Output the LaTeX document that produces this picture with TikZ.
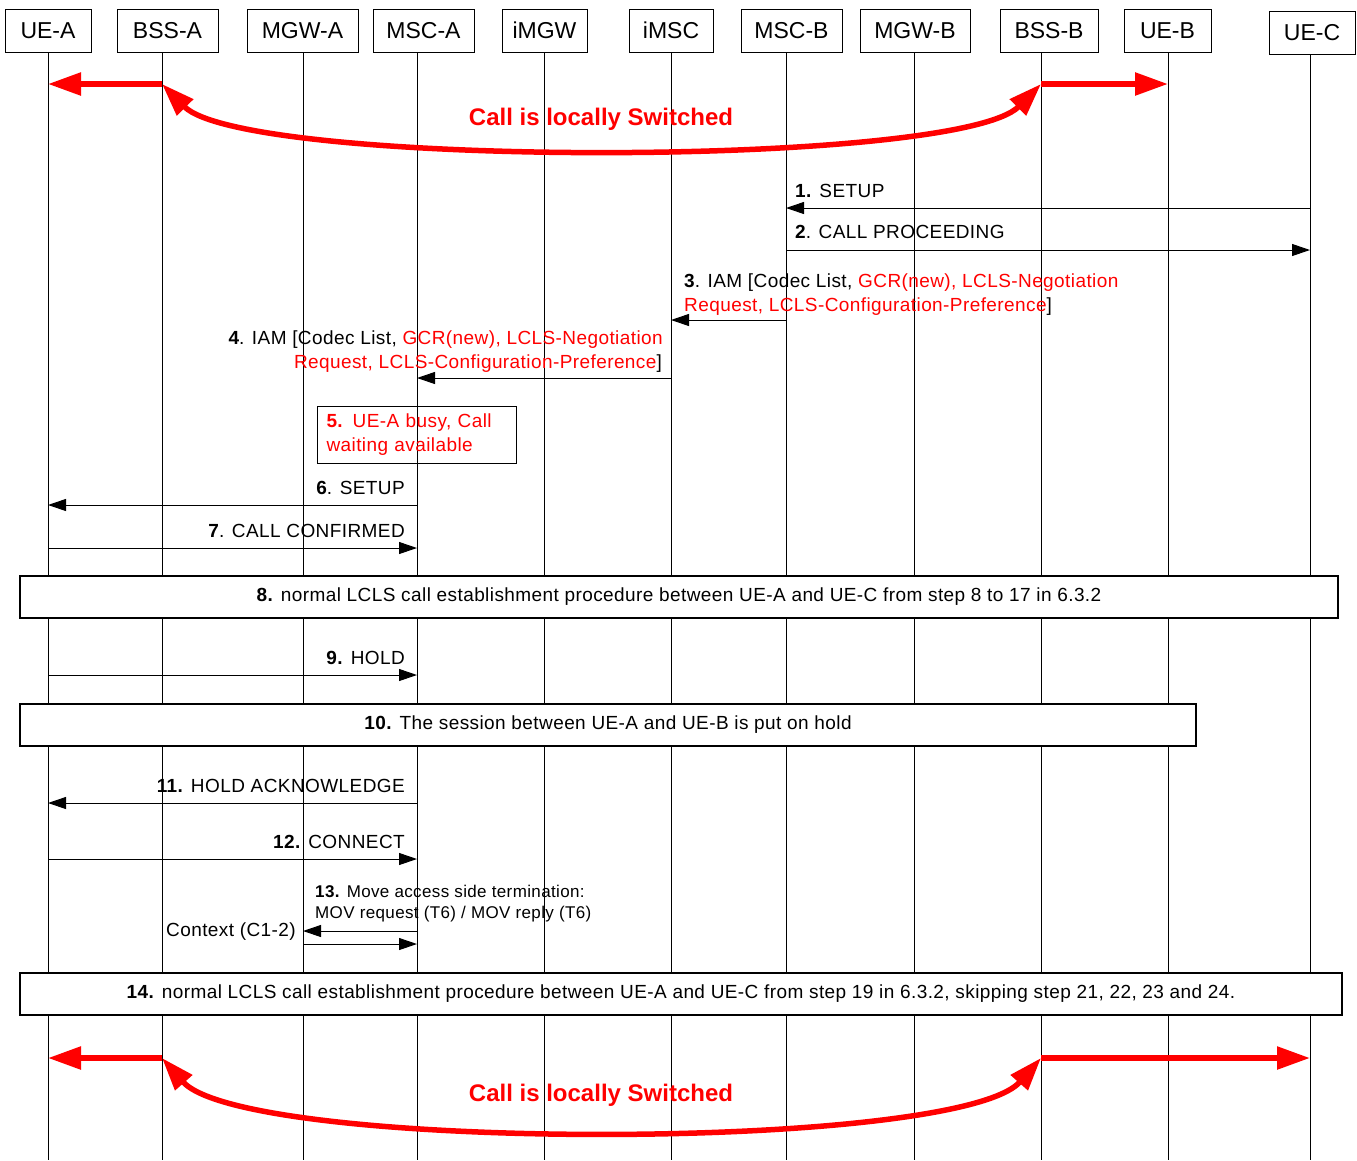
\documentclass[tikz,border=0pt]{standalone}
\usepackage{fontspec}
\setmainfont{Liberation Sans}
\newfontfamily\lblfont[LetterSpace=2.2]{Liberation Sans}
\usetikzlibrary{arrows.meta}
\begin{document}
\begin{tikzpicture}[x=1pt,y=-1pt,
  hdr/.style={draw, line width=1pt, minimum height=43pt, inner sep=0pt, font=\fontsize{23}{28}\selectfont},
  life/.style={line width=1pt},
  msg/.style={line width=1pt, -{Triangle[length=18pt,width=12pt]}},
  bigred/.style={draw=red, line width=5.5pt, -{Triangle[length=33pt,width=22pt]}},
  curvred/.style={draw=red, line width=5.5pt, {Triangle[length=33pt,width=22pt]}-{Triangle[length=33pt,width=22pt]}},
  lbl/.style={font=\lblfont\fontsize{19}{24}\selectfont, inner sep=0pt},
  slbl/.style={font=\lblfont\fontsize{17}{22}\selectfont, inner sep=0pt},
  sbox/.style={draw, line width=1.2pt, minimum height=42pt, inner sep=0pt, font=\lblfont\fontsize{19}{24}\selectfont},
  redtxt/.style={font=\bfseries\fontsize{24}{28}\selectfont, text=red, inner sep=0pt}
]
\useasboundingbox (0,0) rectangle (1357,1160);

% header boxes
\node[hdr, minimum width=86pt]  (UEA)  at (48,30.5)   {UE-A};
\node[hdr, minimum width=101pt] (BSSA) at (167.5,30.5) {BSS-A};
\node[hdr, minimum width=111pt] (MGWA) at (302.5,30.5) {MGW-A};
\node[hdr, minimum width=101pt] (MSCA) at (423.5,30.5) {MSC-A};
\node[hdr, minimum width=85pt]  (IMGW) at (544.5,30.5) {iMGW};
\node[hdr, minimum width=84pt]  (IMSC) at (671,30.5)   {iMSC};
\node[hdr, minimum width=101pt] (MSCB) at (791.5,30.5) {MSC-B};
\node[hdr, minimum width=110pt] (MGWB) at (915,30.5)   {MGW-B};
\node[hdr, minimum width=98pt]  (BSSB) at (1049,30.5)  {BSS-B};
\node[hdr, minimum width=87pt]  (UEB)  at (1167.5,30.5) {UE-B};
\node[hdr, minimum width=86pt]  (UEC)  at (1312,33)    {UE-C};

% lifeline tops
\coordinate (lUEA)  at (48,52);
\coordinate (lBSSA) at (162,52);
\coordinate (lMGWA) at (303,52);
\coordinate (lMSCA) at (417,52);
\coordinate (lIMGW) at (544,52);
\coordinate (lIMSC) at (671,52);
\coordinate (lMSCB) at (786,52);
\coordinate (lMGWB) at (914,52);
\coordinate (lBSSB) at (1041,52);
\coordinate (lUEB)  at (1168,52);
\coordinate (lUEC)  at (1310,54);

\foreach \l in {lUEA,lBSSA,lMGWA,lMSCA,lIMGW,lIMSC,lMSCB,lMGWB,lBSSB,lUEB,lUEC}
  \draw[life] (\l) -- (\l |- 0,1160);

% top local switching
\draw[bigred] (lBSSA |- 0,84) -- (lUEA |- 0,84);
\draw[bigred] (lBSSB |- 0,84) -- (lUEB |- 0,84);
\draw[curvred] (lBSSA |- 0,84) .. controls (245,168) and (958,168) .. (lBSSB |- 0,84);
\node[redtxt, anchor=base] (cls1) at (601,125) {Call is locally Switched};

% 1, 2
\draw[msg] (lUEC |- 0,208) -- (lMSCB |- 0,208);
\node[lbl, anchor=base west] (t1) at (795,197) {\textbf{1.} SETUP};
\draw[msg] (lMSCB |- 0,250) -- (lUEC |- 0,250);
\node[lbl, anchor=base west] (t2) at (795,238) {\textbf{2}. CALL PROCEEDING};

% 3
\node[lbl, anchor=base west] (t3a) at (684,287) {\textbf{3}. IAM [Codec List, \textcolor{red}{GCR(new), LCLS-Negotiation}};
\node[lbl, anchor=base west] (t3b) at (684,311) {\textcolor{red}{Request, LCLS-Configuration-Preference}]};
\draw[msg] (lMSCB |- 0,320) -- (lIMSC |- 0,320);

% 4
\node[lbl, anchor=base east] (t4a) at (663,344) {\textbf{4}. IAM [Codec List, \textcolor{red}{GCR(new), LCLS-Negotiation}};
\node[lbl, anchor=base east] (t4b) at (662,368) {\textcolor{red}{Request, LCLS-Configuration-Preference}]};
\draw[msg] (lIMSC |- 0,378) -- (lMSCA |- 0,378);

% 5
\node[draw, line width=1pt, anchor=north west, text width=181pt, align=left,
      inner xsep=9pt, inner ysep=0pt, minimum height=57pt, text=red,
      font=\lblfont\fontsize{19}{24}\selectfont] (b5) at (317,406)
      {\textbf{5.} UE-A busy, Call\\waiting available};

% 6, 7
\draw[msg] (lMSCA |- 0,505) -- (lUEA |- 0,505);
\node[lbl, anchor=base east] (t6) at (405,494) {\textbf{6}. SETUP};
\draw[msg] (lUEA |- 0,548) -- (lMSCA |- 0,548);
\node[lbl, anchor=base east] (t7) at (405,537) {\textbf{7}. CALL CONFIRMED};

% 8
\node[sbox, fill=white, minimum width=1318pt] (b8) at (679,597)
  {\textbf{8.} normal LCLS call establishment procedure between UE-A and UE-C from step 8 to 17 in 6.3.2};

% 9
\draw[msg] (lUEA |- 0,675) -- (lMSCA |- 0,675);
\node[lbl, anchor=base east] (t9) at (405,664) {\textbf{9.} HOLD};

% 10
\node[sbox, fill=white, minimum width=1176pt] (b10) at (608,725)
  {\textbf{10.} The session between UE-A and UE-B is put on hold};

% 11, 12
\draw[msg] (lMSCA |- 0,803) -- (lUEA |- 0,803);
\node[lbl, anchor=base east] (t11) at (405,792) {\textbf{11.} HOLD ACKNOWLEDGE};
\draw[msg] (lUEA |- 0,859) -- (lMSCA |- 0,859);
\node[lbl, anchor=base east] (t12) at (405,848) {\textbf{12.} CONNECT};

% 13
\node[slbl, anchor=base west] (t13a) at (315,897) {\textbf{13.} Move access side termination:};
\node[slbl, anchor=base west] (t13b) at (315,918) {MOV request (T6) / MOV reply (T6)};
\draw[msg] (lMSCA |- 0,931) -- (lMGWA |- 0,931);
\draw[msg] (lMGWA |- 0,944) -- (lMSCA |- 0,944);
\node[lbl, anchor=base east] (ctx) at (296,936) {Context (C1-2)};

% 14
\node[sbox, fill=white, minimum width=1322pt] (b14) at (681,994)
  {\textbf{14.} normal LCLS call establishment procedure between UE-A and UE-C from step 19 in 6.3.2, skipping step 21, 22, 23 and 24.};

% bottom local switching
\draw[bigred] (lBSSA |- 0,1058) -- (lUEA |- 0,1058);
\draw[bigred] (lBSSB |- 0,1058) -- (lUEC |- 0,1058);
\draw[curvred] (lBSSA |- 0,1058) .. controls (245,1152) and (958,1152) .. (lBSSB |- 0,1058);
\node[redtxt, anchor=base] (cls2) at (601,1101) {Call is locally Switched};
\end{tikzpicture}
\end{document}
